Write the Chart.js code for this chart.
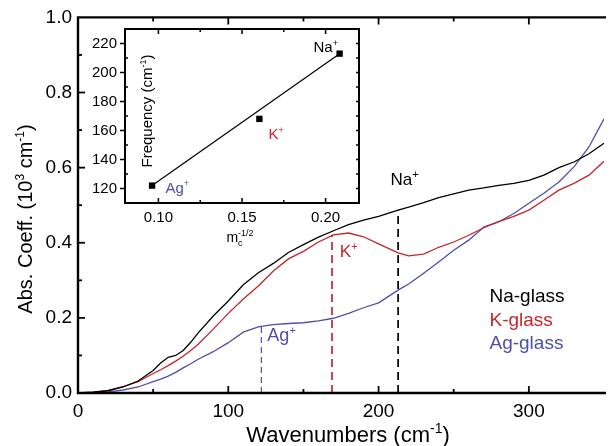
<!DOCTYPE html>
<html>
<head>
<meta charset="utf-8">
<script src="https://cdn.jsdelivr.net/npm/chart.js@4"></script>
<style>
  html, body { margin: 0; padding: 0; background: #fff; }
  #wrap { position: relative; width: 611px; height: 446px; }
  #wrap canvas { position: absolute; left: 0; top: 0; }
</style>
</head>
<body>
<div id="wrap">
  <canvas id="main" width="611" height="446"></canvas>
  <canvas id="inset" width="611" height="446"></canvas>
</div>
<script>
//DATA
const wavenumbers = [0,10,20,30,40,50,55,60,65,70,75,80,90,100,110,120,130,140,150,160,170,180,190,200,213,220,230,240,250,260,270,280,290,300,310,320,330,340,350];
const naGlass = [0,.002,.006,.016,.032,.06,.08,.095,.1,.113,.135,.16,.205,.245,.288,.32,.345,.374,.395,.415,.432,.448,.46,.47,.487,.495,.507,.52,.53,.54,.546,.553,.558,.566,.58,.6,.615,.637,.665];
const kGlass = [0,.002,.007,.017,.03,.052,.062,.073,.085,.098,.113,.13,.17,.212,.25,.285,.325,.357,.377,.402,.421,.426,.416,.397,.373,.365,.37,.388,.402,.42,.44,.456,.47,.487,.513,.54,.558,.58,.617];
const agGlass = [0,.001,.003,.008,.016,.03,.037,.045,.055,.067,.078,.09,.11,.134,.162,.176,.182,.185,.187,.192,.199,.212,.227,.24,.274,.29,.319,.349,.38,.407,.442,.456,.478,.505,.532,.562,.602,.655,.73];
const modeX = [213, 169, 122];          // Na, K, Ag mode positions
const modeTop = [0.487, 0.421, 0.178];  // where the dashed line meets its curve
const insetMass = [0.0962, 0.1604, 0.2084];   // m_c^-1/2 for Ag, K, Na
const insetFreq = [122, 168, 213];
const fitMass = [0.0962, 0.2084];
const fitFreq = [122, 213];
//DATA

const FONT = 'Liberation Sans, Arial, sans-serif';
const RED = '#c1272d';
const BLUE = '#4f4fa8';
Chart.defaults.font.family = FONT;
Chart.defaults.color = '#000';

const pts = (xs, ys) => xs.map((v, i) => ({ x: v, y: ys[i] }));

//TEXTO CON SUPER/SUBINDICES
function parseRich(str) {
  const parts = [];
  str.replace(/\^\{([^}]*)\}|_\{([^}]*)\}|([^^_]+)/g, (m, sup, sub, txt) => {
    if (sup !== undefined) parts.push({ t: sup, k: 'sup' });
    else if (sub !== undefined) parts.push({ t: sub, k: 'sub' });
    else parts.push({ t: txt, k: 'n' });
  });
  return parts;
}
function drawRich(ctx, str, x, y, size, color, align) {
  ctx.save();
  let cur = 0, prevStart = 0, prevKind = null;
  const items = [];
  parseRich(str).forEach(p => {
    const s = p.k === 'n' ? size : Math.round(size * 0.62);
    ctx.font = s + 'px ' + FONT;
    const w = ctx.measureText(p.t).width;
    const start = (p.k === 'sup' && prevKind === 'sub') ? prevStart : cur;
    const dy = p.k === 'sup' ? -size * 0.42 : p.k === 'sub' ? size * 0.3 : 0;
    items.push({ t: p.t, s, x: start, dy });
    cur = Math.max(cur, start + w);
    prevStart = start; prevKind = p.k;
  });
  const x0 = align === 'center' ? x - cur / 2 : align === 'right' ? x - cur : x;
  ctx.fillStyle = color; ctx.textAlign = 'left'; ctx.textBaseline = 'alphabetic';
  items.forEach(it => { ctx.font = it.s + 'px ' + FONT; ctx.fillText(it.t, x0 + it.x, y + it.dy); });
  ctx.restore();
}

//MARCO Y TEXTOS DEL GRAFICO PRINCIPAL
const mainDecor = {
  id: 'mainDecor',
  afterDraw(chart) {
    const { ctx, chartArea: a, scales: { x, y } } = chart;
    ctx.save();
    ctx.strokeStyle = '#000';
    ctx.lineWidth = 1.8;
    x.ticks.forEach(t => {
      const px = x.getPixelForValue(t.value);
      if (px < a.left + 2 || px > a.right - 2) return;
      const len = t.value % 100 === 0 ? 7 : 4;
      ctx.beginPath();
      ctx.moveTo(px, a.bottom); ctx.lineTo(px, a.bottom - len);
      ctx.moveTo(px, a.top); ctx.lineTo(px, a.top + len);
      ctx.stroke();
    });
    y.ticks.forEach(t => {
      const py = y.getPixelForValue(t.value);
      if (py < a.top + 2 || py > a.bottom - 2) return;
      const len = Math.round(t.value * 10) % 2 === 0 ? 7 : 4;
      ctx.beginPath(); ctx.moveTo(a.left, py); ctx.lineTo(a.left + len, py); ctx.stroke();
    });
    ctx.lineWidth = 2.4;
    ctx.beginPath();
    ctx.moveTo(a.right + 2, a.top); ctx.lineTo(a.left, a.top);
    ctx.lineTo(a.left, a.bottom); ctx.lineTo(a.right + 2, a.bottom);
    ctx.stroke();
    ctx.restore();

    const at = (vx, vy) => [x.getPixelForValue(vx), y.getPixelForValue(vy)];
    drawRich(ctx, 'Na^{+}', ...at(208, 0.553), 17, '#000', 'left');
    drawRich(ctx, 'K^{+}', ...at(174.2, 0.361), 17, RED, 'left');
    drawRich(ctx, 'Ag^{+}', ...at(126, 0.138), 18, BLUE, 'left');
    drawRich(ctx, 'Na-glass', ...at(273.8, 0.243), 19, '#000', 'left');
    drawRich(ctx, 'K-glass', ...at(273.8, 0.179), 19, RED, 'left');
    drawRich(ctx, 'Ag-glass', ...at(273.8, 0.117), 19, BLUE, 'left');

    drawRich(ctx, 'Wavenumbers (cm^{-1})', 348, 442, 22, '#000', 'center');
    ctx.save();
    ctx.translate(32, 219);
    ctx.rotate(-Math.PI / 2);
    drawRich(ctx, 'Abs. Coeff. (10^{3} cm^{-1})', 0, 0, 20, '#000', 'center');
    ctx.restore();
  }
};

//MARCO Y TEXTOS DEL INSERTO
const insetDecor = {
  id: 'insetDecor',
  afterDraw(chart) {
    const { ctx, chartArea: a, scales: { x, y } } = chart;
    ctx.save();
    ctx.strokeStyle = '#000';
    ctx.lineWidth = 1.5;
    x.ticks.forEach(t => {
      const q = t.value / 0.025;
      if (Math.abs(q - Math.round(q)) > 1e-6) return;
      const px = x.getPixelForValue(t.value);
      const len = Math.round(q) % 2 === 0 ? 5 : 3;
      ctx.beginPath();
      ctx.moveTo(px, a.bottom); ctx.lineTo(px, a.bottom - len);
      ctx.moveTo(px, a.top); ctx.lineTo(px, a.top + len);
      ctx.stroke();
    });
    y.ticks.forEach(t => {
      const py = y.getPixelForValue(t.value);
      if (py < a.top + 2 || py > a.bottom - 2) return;
      const major = t.value % 20 === 0;
      ctx.beginPath();
      if (major) { ctx.moveTo(a.left - 5, py); ctx.lineTo(a.left, py); }
      else { ctx.moveTo(a.left, py); ctx.lineTo(a.left + 3, py); }
      ctx.moveTo(a.right, py); ctx.lineTo(a.right - 3, py);
      ctx.stroke();
    });
    ctx.lineWidth = 2;
    ctx.strokeRect(a.left, a.top, a.right - a.left, a.bottom - a.top);
    ctx.restore();

    const at = (vx, vy) => [x.getPixelForValue(vx), y.getPixelForValue(vy)];
    drawRich(ctx, 'Na^{+}', ...at(0.1928, 213.8), 15, '#000', 'left');
    drawRich(ctx, 'K^{+}', ...at(0.1659, 153.8), 15, RED, 'left');
    drawRich(ctx, 'Ag^{+}', ...at(0.1042, 117.2), 15, BLUE, 'left');

    drawRich(ctx, 'm_{c}^{-1/2}', 240, 242, 14, '#000', 'center');
    ctx.save();
    ctx.translate(152, 111);
    ctx.rotate(-Math.PI / 2);
    drawRich(ctx, 'Frequency (cm^{-1})', 0, 0, 15, '#000', 'center');
    ctx.restore();
  }
};

//GRAFICO PRINCIPAL
const lineSet = (label, ys, color) => ({
  label, data: pts(wavenumbers, ys), borderColor: color, borderWidth: 1.3,
  pointRadius: 0, tension: 0, fill: false
});
const modeColors = ['#000', RED, BLUE];
const modeSets = modeX.map((mx, i) => ({
  data: [{ x: mx, y: 0 }, { x: mx, y: modeTop[i] }],
  borderColor: modeColors[i], borderWidth: i === 2 ? 1.2 : 1.7,
  borderDash: i === 2 ? [6, 4] : [8, 5], pointRadius: 0, fill: false
}));

new Chart(document.getElementById('main'), {
  type: 'line',
  data: {
    datasets: [
      lineSet('Na-glass', naGlass, '#000'),
      lineSet('K-glass', kGlass, RED),
      lineSet('Ag-glass', agGlass, BLUE),
      ...modeSets
    ]
  },
  options: {
    responsive: false,
    animation: false,
    layout: { padding: { top: 17, left: 0, right: 0, bottom: 0 } },
    plugins: { legend: { display: false }, tooltip: { enabled: false } },
    scales: {
      x: {
        type: 'linear', min: 0, max: 350,
        grid: { display: false, drawTicks: false }, border: { display: false },
        ticks: {
          stepSize: 50, autoSkip: false, maxRotation: 0, padding: 7,
          font: { size: 19 }, color: '#000',
          callback: v => (v % 100 === 0 && v < 350) ? String(v) : ''
        },
        afterFit: s => { s.height = 53; }
      },
      y: {
        type: 'linear', min: 0, max: 1,
        grid: { display: false, drawTicks: false }, border: { display: false },
        ticks: {
          stepSize: 0.1, autoSkip: false, padding: 6,
          font: { size: 19 }, color: '#000',
          callback: v => Math.round(v * 10) % 2 === 0 ? v.toFixed(1) : ''
        },
        afterFit: s => { s.width = 78; }
      }
    }
  },
  plugins: [mainDecor]
});

//INSERTO
new Chart(document.getElementById('inset'), {
  type: 'line',
  data: {
    datasets: [
      { data: pts(fitMass, fitFreq), borderColor: '#000', borderWidth: 1.2, pointRadius: 0, fill: false },
      { data: pts(insetMass, insetFreq), showLine: false, pointStyle: 'rect', pointRadius: 4.5,
        backgroundColor: '#000', borderColor: '#000', borderWidth: 0 }
    ]
  },
  options: {
    responsive: false,
    animation: false,
    layout: { padding: { top: 29, left: 0, right: 252, bottom: 0 } },
    plugins: { legend: { display: false }, tooltip: { enabled: false } },
    scales: {
      x: {
        type: 'linear', min: 0.08, max: 0.22,
        grid: { display: false, drawTicks: false }, border: { display: false },
        ticks: {
          stepSize: 0.025, includeBounds: false, autoSkip: false, maxRotation: 0, padding: 6,
          font: { size: 15 }, color: '#000',
          callback: v => {
            const q = v / 0.05;
            return Math.abs(q - Math.round(q)) < 1e-6 ? v.toFixed(2) : '';
          }
        },
        afterFit: s => { s.height = 243; }
      },
      y: {
        type: 'linear', min: 110, max: 230,
        grid: { display: false, drawTicks: false }, border: { display: false },
        ticks: {
          stepSize: 10, autoSkip: false, padding: 8,
          font: { size: 15 }, color: '#000',
          callback: v => v % 20 === 0 ? String(v) : ''
        },
        afterFit: s => { s.width = 125; }
      }
    }
  },
  plugins: [insetDecor]
});
</script>
</body>
</html>
